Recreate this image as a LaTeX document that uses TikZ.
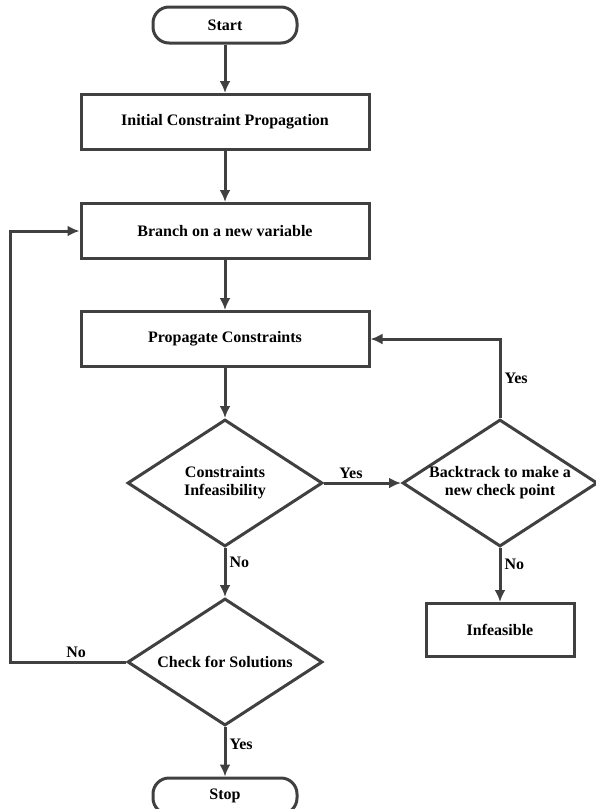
\documentclass[tikz,border=0pt]{standalone}
\usepackage{fontspec}
\setmainfont{Liberation Serif}
\usetikzlibrary{shapes.geometric,arrows.meta}
\definecolor{linegray}{HTML}{404040}
\tikzset{
  base/.style={draw=linegray, line width=3pt, font=\bfseries\fontsize{16}{18}\selectfont, align=center, inner sep=0pt},
  terminal/.style={base, rectangle, rounded corners=16pt, minimum width=144pt, minimum height=36pt},
  process/.style={base, rectangle, minimum width=288pt, minimum height=55pt},
  decision/.style={base, diamond, aspect=1.53, minimum width=195pt, minimum height=127pt},
  arr/.style={draw=linegray, line width=3pt, -{Latex[length=12pt,width=11pt]}},
  lbl/.style={font=\bfseries\fontsize{16}{18}\selectfont, inner sep=3pt}
}
\begin{document}
\begin{tikzpicture}[x=1pt, y=-1pt]
        % Frame
        \useasboundingbox (0,0) rectangle (596,809);

        % Nodes
        \node[terminal] (start) at (225,25) {Start};
        \node[process] (init) at (225,122) {Initial Constraint Propagation};
        \node[process] (branch) at (225,231) {Branch on a new variable};
        \node[process] (prop) at (225,339) {Propagate Constraints};
        \node[decision] (infeas) at (225,483) {Constraints\\Infeasibility};
        \node[decision, inner sep=-6pt] (back) at (500,483) {Backtrack to make a\\new check point};
        \node[process, minimum width=148pt, minimum height=53pt] (fail) at (500,630) {Infeasible};
        \node[decision] (check) at (225,662) {Check for Solutions};
        \node[terminal] (stop) at (225,796) {Stop};
        \coordinate (loop) at (10,662);

        % Main flow
        \draw[arr] (start) -- (init);
        \draw[arr] (init) -- (branch);
        \draw[arr] (branch) -- (prop);
        \draw[arr] (prop) -- (infeas);
        \draw[arr] (infeas) -- node[lbl, above, pos=0.35] {Yes} (back);
        \draw[arr] (infeas) -- node[lbl, right, pos=0.3] {No} (check);
        \draw[arr] (back) -- node[lbl, right, pos=0.3] {No} (fail);
        \draw[arr] (check) -- node[lbl, right, pos=0.35] {Yes} (stop);

        % Feedback loops
        \draw[arr] (back.north) |- node[lbl, right, pos=0.25] {Yes} (prop.east);
        \draw[arr] (check.west) -- node[lbl, above, pos=0.43] {No} (loop) |- (branch.west);

      \end{tikzpicture}
\end{document}
